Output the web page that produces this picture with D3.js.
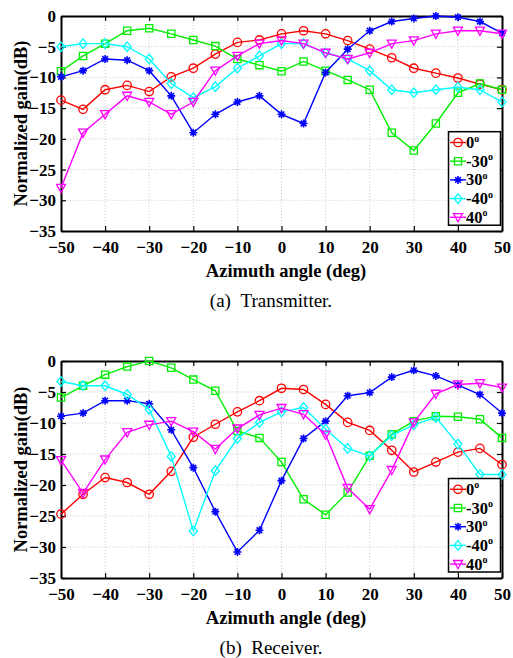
<!DOCTYPE html>
<html><head><meta charset="utf-8">
<script src="https://cdn.jsdelivr.net/npm/d3@7"></script>
<style>body{margin:0;background:#fff}svg{display:block}
svg text{font-family:"Liberation Serif","Tinos","Times New Roman","DejaVu Serif",serif;}</style>
</head><body>
<svg id="c" width="513" height="658"></svg>
<script>
const angles = [-50,-45,-40,-35,-30,-25,-20,-15,-10,-5,0,5,10,15,20,25,30,35,40,45,50];
const seriesNames = ["0","-30","30","-40","40"];
const seriesColors = ["#ff0000","#00ee00","#0000ff","#00ffff","#ff00ff"];
const seriesMarkers = ["circle","square","star","diamond","triangle"];

const txGain0   = [-13.7,-15.2,-12.0,-11.3,-12.3,-9.9,-8.5,-6.2,-4.3,-3.9,-2.9,-2.4,-2.9,-4.0,-5.4,-6.8,-8.5,-9.3,-10.1,-11.1,-12.0];
const txGainM30 = [-9.0,-6.5,-4.5,-2.4,-2.0,-2.9,-3.9,-4.9,-7.0,-8.0,-9.0,-7.4,-8.9,-10.4,-12.0,-19.0,-21.9,-17.5,-12.5,-11.0,-12.0];
const txGain30  = [-9.9,-8.9,-7.0,-7.2,-8.9,-13.0,-19.0,-16.0,-14.0,-13.0,-16.0,-17.5,-9.2,-5.4,-2.4,-0.9,-0.4,0,-0.2,-0.9,-2.8];
const txGainM40 = [-5.0,-4.5,-4.5,-5.0,-7.0,-11.0,-13.3,-11.5,-8.5,-6.5,-4.5,-4.5,-6.0,-7.0,-8.9,-12.0,-12.5,-12.0,-11.6,-12.0,-14.0];
const txGain40  = [-28.0,-19.0,-16.0,-13.0,-14.0,-16.0,-14.0,-8.9,-6.5,-4.5,-4.0,-4.5,-6.0,-7.0,-6.0,-4.5,-4.0,-2.9,-2.4,-2.4,-2.9];

const rxGain0   = [-24.7,-21.5,-18.8,-19.6,-21.5,-17.8,-12.3,-10.2,-8.2,-6.4,-4.4,-4.6,-7.0,-9.9,-11.2,-14.4,-17.9,-16.3,-14.7,-14.1,-16.7];
const rxGainM30 = [-5.9,-4.0,-2.2,-0.9,0,-1.1,-3.0,-4.8,-11.3,-12.4,-16.3,-22.3,-24.8,-21.2,-15.3,-11.8,-9.7,-8.9,-9.0,-9.4,-12.4];
const rxGain30  = [-8.9,-8.4,-6.4,-6.4,-6.9,-11.1,-17.2,-24.3,-30.8,-27.3,-19.3,-12.5,-9.7,-5.6,-5.1,-2.6,-1.5,-2.4,-3.9,-5.4,-8.4];
const rxGainM40 = [-3.3,-4.0,-4.0,-5.4,-7.8,-15.4,-27.4,-17.7,-12.5,-9.9,-8.2,-7.5,-11.0,-14.1,-15.3,-12.0,-10.3,-9.1,-13.4,-18.3,-18.3];
const rxGain40  = [-16.0,-21.3,-15.9,-11.5,-10.3,-9.7,-11.4,-14.2,-10.9,-8.7,-7.6,-8.6,-11.9,-20.5,-23.9,-17.6,-9.9,-5.3,-3.8,-3.6,-4.3];

const xTicks = [-50,-40,-30,-20,-10,0,10,20,30,40,50];
const yTicks = [0,-5,-10,-15,-20,-25,-30,-35];
const xLabel = "Azimuth angle (deg)";
const yLabel = "Normalized gain(dB)";
const captions = ["(a)\u2002Transmitter.","(b)\u2002Receiver."];

const svg = d3.select("#c");

function markerPath(type){
  const p = d3.path();
  if(type==="circle"){ p.arc(0,0,4.2,0,2*Math.PI); }
  else if(type==="square"){ p.rect(-3.6,-3.6,7.2,7.2); }
  else if(type==="diamond"){ p.moveTo(0,-4.8);p.lineTo(4,0);p.lineTo(0,4.8);p.lineTo(-4,0);p.closePath(); }
  else if(type==="triangle"){ p.moveTo(-4.5,-3.6);p.lineTo(4.5,-3.6);p.lineTo(0,4.6);p.closePath(); }
  else if(type==="star"){
    const r=4;
    for(let k=0;k<4;k++){const a=k*Math.PI/4;p.moveTo(-r*Math.cos(a),-r*Math.sin(a));p.lineTo(r*Math.cos(a),r*Math.sin(a));}
  }
  return p.toString();
}

function drawChart(top, bottom, data, cap, legTop){
  const left=61, right=502;
  const x = d3.scaleLinear().domain([-50,50]).range([left,right]);
  const y = d3.scaleLinear().domain([-35,0]).range([bottom,top]);
  const g = svg.append("g");
  g.append("g").selectAll("line").data(xTicks.slice(1,-1)).join("line")
    .attr("x1",d=>x(d)).attr("x2",d=>x(d)).attr("y1",top).attr("y2",bottom)
    .attr("stroke","#cfcfcf").attr("stroke-width",1).attr("stroke-dasharray","1.2,1.8");
  g.append("g").selectAll("line").data(yTicks.slice(1,-1)).join("line")
    .attr("y1",d=>y(d)).attr("y2",d=>y(d)).attr("x1",left).attr("x2",right)
    .attr("stroke","#cfcfcf").attr("stroke-width",1).attr("stroke-dasharray","1.2,1.8");
  const ax = [
    [d3.axisBottom(x).tickValues(xTicks).tickSizeInner(-5).tickSizeOuter(0).tickPadding(10), `translate(0,${bottom})`, true],
    [d3.axisTop(x).tickValues(xTicks).tickSizeInner(-5).tickSizeOuter(0), `translate(0,${top})`, false],
    [d3.axisLeft(y).tickValues(yTicks).tickSizeInner(-5).tickSizeOuter(0).tickPadding(5), `translate(${left},0)`, true],
    [d3.axisRight(y).tickValues(yTicks).tickSizeInner(-5).tickSizeOuter(0), `translate(${right},0)`, false]
  ];
  ax.forEach(([a,tr,lab])=>{
    const ag = g.append("g").attr("transform",tr).call(a);
    ag.attr("font-family",null);
    ag.select(".domain").attr("stroke","#000").attr("stroke-width",2);
    ag.selectAll(".tick line").attr("stroke","#000").attr("stroke-width",1.2);
    if(lab){ ag.selectAll(".tick text").attr("font-weight","bold").attr("font-size",17).attr("fill","#000"); }
    else ag.selectAll(".tick text").remove();
  });
  data.forEach((vals,i)=>{
    const pts = angles.map((a,j)=>[x(a),y(vals[j])]);
    g.append("path").attr("d",d3.line()(pts)).attr("fill","none")
      .attr("stroke",seriesColors[i]).attr("stroke-width",1.4);
    g.append("g").selectAll("path").data(pts).join("path")
      .attr("transform",d=>`translate(${d[0]},${d[1]})`)
      .attr("d",markerPath(seriesMarkers[i])).attr("fill","none")
      .attr("stroke",seriesColors[i]).attr("stroke-width",seriesMarkers[i]==="star"?1.6:1.3);
  });
  const lg = g.append("g");
  lg.append("rect").attr("x",448.5).attr("y",legTop).attr("width",52).attr("height",93.5)
    .attr("fill","#fff").attr("stroke","#000").attr("stroke-width",1.5);
  seriesNames.forEach((n,i)=>{
    const yy = legTop+10.8+i*18.7;
    lg.append("line").attr("x1",450).attr("x2",466).attr("y1",yy).attr("y2",yy)
      .attr("stroke",seriesColors[i]).attr("stroke-width",1.4);
    lg.append("path").attr("transform",`translate(458,${yy})`).attr("d",markerPath(seriesMarkers[i]))
      .attr("fill","none").attr("stroke",seriesColors[i]).attr("stroke-width",seriesMarkers[i]==="star"?1.6:1.3);
    const t = lg.append("text").attr("x",466).attr("y",yy+5.5)
      .attr("font-weight","bold").attr("font-size",16.5).attr("fill","#000").text(n);
    t.append("tspan").attr("font-size",10).attr("dy",-6.5).text("o");
  });
  g.append("text").attr("x",286).attr("y",bottom+45.5).attr("text-anchor","middle")
    .attr("font-weight","bold").attr("font-size",18.5).text(xLabel);
  g.append("text").attr("transform",`translate(27,${(top+bottom)/2}) rotate(-90)`).attr("text-anchor","middle")
    .attr("font-weight","bold").attr("font-size",18.5).text(yLabel);
  g.append("text").attr("x",271).attr("y",bottom+76).attr("text-anchor","middle")
    .attr("font-size",19).text(cap);
}

drawChart(16, 231, [txGain0,txGainM30,txGain30,txGainM40,txGain40], captions[0], 131.7);
drawChart(361, 578, [rxGain0,rxGainM30,rxGain30,rxGainM40,rxGain40], captions[1], 478.5);
</script>
</body></html>
